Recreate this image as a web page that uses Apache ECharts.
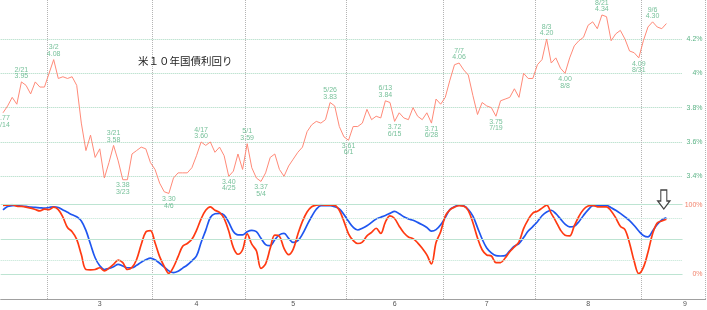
<!DOCTYPE html>
<html><head><meta charset="utf-8">
<script src="https://cdn.jsdelivr.net/npm/echarts@6/dist/echarts.min.js"></script>
<style>html,body{margin:0;padding:0;background:#fff}#c{width:707px;height:310px}</style>
</head><body><div id="c"></div>
<script>
// ---- categories (trading days) ----
const dates = ['2/14','2/15','2/16','2/17','2/21','2/22','2/23','2/24','2/27','2/28',
'3/1','3/2','3/3','3/6','3/7','3/8','3/9','3/10','3/13','3/14','3/15','3/16','3/17','3/20','3/21','3/22','3/23','3/24','3/27','3/28','3/29','3/30','3/31',
'4/3','4/4','4/5','4/6','4/7','4/10','4/11','4/12','4/13','4/14','4/17','4/18','4/19','4/20','4/21','4/24','4/25','4/26','4/27','4/28',
'5/1','5/2','5/3','5/4','5/5','5/8','5/9','5/10','5/11','5/12','5/15','5/16','5/17','5/18','5/19','5/22','5/23','5/24','5/25','5/26','5/30','5/31',
'6/1','6/2','6/5','6/6','6/7','6/8','6/9','6/12','6/13','6/14','6/15','6/16','6/20','6/21','6/22','6/23','6/26','6/27','6/28','6/29','6/30',
'7/3','7/5','7/6','7/7','7/10','7/11','7/12','7/13','7/14','7/17','7/18','7/19','7/20','7/21','7/24','7/25','7/26','7/27','7/28','7/31',
'8/1','8/2','8/3','8/4','8/7','8/8','8/9','8/10','8/11','8/14','8/15','8/16','8/17','8/18','8/21','8/22','8/23','8/24','8/25','8/28','8/29','8/30','8/31',
'9/1','9/5','9/6','9/7','9/8','9/11'];
const futureDates = ['9/12','9/13','9/14','9/15','9/18','9/19','9/20','9/21','9/22','9/25','9/26','9/27','9/28','9/29'];

// ---- US 10Y yield (%) ----
const yields = [3.77,3.81,3.86,3.82,3.95,3.93,3.88,3.95,3.92,3.92,
4.00,4.08,3.97,3.98,3.97,3.98,3.93,3.71,3.55,3.64,
3.51,3.56,3.39,3.48,3.58,3.49,3.38,3.38,3.53,3.55,
3.57,3.56,3.48,3.44,3.36,3.31,3.30,3.39,3.42,3.42,
3.42,3.45,3.52,3.60,3.58,3.60,3.54,3.57,3.52,3.40,
3.43,3.53,3.44,3.59,3.45,3.39,3.37,3.42,3.51,3.53,
3.44,3.40,3.46,3.50,3.54,3.57,3.66,3.70,3.72,3.71,
3.73,3.83,3.81,3.69,3.63,3.61,3.69,3.69,3.71,3.79,
3.73,3.75,3.74,3.84,3.83,3.72,3.77,3.74,3.73,3.80,
3.75,3.73,3.77,3.71,3.85,3.82,3.86,3.96,4.05,4.06,
4.02,3.99,3.87,3.76,3.83,3.81,3.80,3.75,3.84,3.85,
3.86,3.91,3.86,4.00,3.97,3.97,4.05,4.08,4.20,4.06,
4.09,4.03,4.00,4.09,4.16,4.19,4.21,4.28,4.30,4.26,
4.34,4.33,4.19,4.23,4.25,4.20,4.13,4.12,4.09,4.19,
4.27,4.30,4.27,4.26,4.29];

// ---- oscillator (%) : fast (red) and slow (blue) ----
const oscFast = [99,99.5,100,98,97.5,96.5,95,93,91,93.5,
93,96.5,93,82,67,61,50,28,6.5,6,
6.5,9,4.5,8.5,14,20,16.5,6.5,9.5,21,
42.5,60.5,62.5,45,25,11,1,10,25,40,
44,50,63,79.5,92,97,92,89,80,62,
38,28.5,35,58,43,33.5,8,14.5,37,56,
54.5,37,28,36,57.5,76,89.5,97,99.5,100,
99.5,99.5,99,92,76,58,48.5,44,46,55,
60,66,58.5,75,84,80,69,59.5,53.5,51,
45,37,27.5,14.5,45.5,61,83.5,92.5,96.5,98.5,
98,91.5,74,52,35,27.5,26,16.5,16.5,23,
32,39,46.5,65.5,78.5,88,90.5,95,99.5,87.5,
76,63.5,56,55,69.5,83,93,98,99,97,
97,97,91,81,69,64,44.5,18.5,0.5,9.5,
31.5,58,73.5,76.5,79];
const oscSlow = [92.5,97.5,98.5,99,98,97.5,96.5,96,95.5,95,
96,97,96,92.5,89,85.5,82.5,76.5,63,43,
23.5,12,6.5,8,10.5,14,11.5,9,9,12.5,
17,20.5,23,20.5,15.5,10,4.5,2,4,8.5,
13,19,26,45.5,63,81.5,87,87.5,85,74.5,
61.5,56.5,56.5,61,63,61,51.5,42.5,41,49.5,
56.5,58.5,51.5,45.5,48,57.5,70.5,83,93.5,98.5,
98.5,98.5,97,94,86,76,67.5,63.5,66,69.5,
74.5,79.5,82,84.5,87.5,90.5,87,82.5,79.5,77.5,
74.5,71,67,62,64,71,81.5,93,97,99.5,
98.5,93,83.5,67,50.5,37.5,30.5,26.5,26,26.5,
33.5,40,44,52.5,62,68.5,75.5,84,89.5,92,
87,79.5,72,68,69,75.5,84.5,92.5,98.5,99,
99,99,95.5,92,87.5,82.5,77,70,62,55.5,
53.5,62,71.5,78,81];

// ---- peak / trough annotations ----
const annotIndex = [0,4,11,24,26,36,43,49,53,56,71,75,83,85,93,99,107,118,122,130,138,141];
const annotDate  = ['2/14','2/21','3/2','3/21','3/23','4/6','4/17','4/25','5/1','5/4','5/26','6/1','6/13','6/15','6/28','7/7','7/19','8/3','8/8','8/21','8/31','9/6'];
const annotKind  = ['L','H','H','H','L','L','H','L','H','L','H','L','H','L','L','H','L','H','L','H','L','H'];
const arrowAt = ['9/8', 107.5];   // marker arrow (date, oscillator level)

const yTicks = [3.4, 4.2, 0.2];       // top axis min, max, step
const oscLevels = [100, 80, 50, 20, 0];
const oscDotted = [80, 20];
const titleText = '米１０年国債利回り';

// ---- layout helpers ----
const band = 4.607;
const gLeft = 0.7;
const plotCats = dates.concat(futureDates.slice(0, 3));
const allDates = dates.concat(futureDates);
const axisCats = allDates.slice(0, 153);
const monthOf = d => +d.split('/')[0];
const isMonthStart = i => i > 0 && monthOf(allDates[i]) !== monthOf(allDates[i - 1]);
const midSet = new Set();
(function(){
  let s = null;
  for (let i = 0; i <= allDates.length; i++) {
    if (i === allDates.length || isMonthStart(i)) {
      if (s !== null) midSet.add(Math.floor((s + i - 1) / 2));
      s = (i === 0) ? null : i;
    }
  }
})();
const isMonday = i => { const p = allDates[i].split('/'); return new Date(2023, +p[0]-1, +p[1]).getDay() === 1; };

const chart = echarts.init(document.getElementById('c'), null, {renderer: 'canvas'});
const gBase = {left: gLeft, containLabel: false, outerBoundsMode: 'none'};
const txtFont = 'Liberation Sans';

chart.setOption({
  animation: false,
  backgroundColor: '#fff',
  title: {text: titleText, left: 138, top: 56, padding: 0,
    textStyle: {fontSize: 10.5, fontWeight: 'normal', color: '#222', fontFamily: 'Noto Sans CJK JP'}},
  grid: [
    Object.assign({top: 0, height: 299, width: band * axisCats.length}, gBase),
    Object.assign({top: 39, height: 137.3, width: band * plotCats.length}, gBase),
    Object.assign({top: 204.7, height: 69.3, width: band * plotCats.length}, gBase)
  ],
  xAxis: [
    {gridIndex: 0, type: 'category', data: axisCats, boundaryGap: true, position: 'bottom',
     axisLine: {lineStyle: {color: '#a0a0a0', width: 1}},
     axisTick: {interval: (i) => isMonthStart(i), length: 6, lineStyle: {color: '#666'}},
     axisLabel: {interval: (i) => midSet.has(i), formatter: (v) => String(monthOf(v)), fontSize: 7, color: '#555', margin: 2, fontFamily: txtFont},
     splitLine: {show: true, interval: (i) => isMonthStart(i), lineStyle: {color: '#b4b4b4', type: 'dotted', width: 1}}},
    {gridIndex: 0, type: 'category', data: axisCats, boundaryGap: true, position: 'bottom',
     axisLine: {show: false}, axisLabel: {show: false}, splitLine: {show: false},
     axisTick: {interval: (i) => isMonday(i) && !isMonthStart(i), length: 2, lineStyle: {color: '#ff6a50'}}},
    {gridIndex: 1, type: 'category', data: plotCats, boundaryGap: true, show: false},
    {gridIndex: 2, type: 'category', data: plotCats, boundaryGap: true, show: false}
  ],
  yAxis: [
    {gridIndex: 0, type: 'value', show: false, min: 0, max: 1},
    {gridIndex: 1, type: 'value', position: 'right', min: yTicks[0], max: yTicks[1], interval: yTicks[2],
     axisLine: {show: false}, axisTick: {show: false},
     axisLabel: {margin: 20, align: 'right', fontSize: 7, color: '#5cb386', fontFamily: txtFont,
       formatter: (v) => (Math.round(v * 10) / 10) + '%'},
     splitLine: {lineStyle: {color: '#a6d8bf', type: 'dotted', width: 1}}},
    {gridIndex: 2, type: 'value', position: 'right', min: 0, max: 100, interval: 100,
     axisLine: {show: false}, axisTick: {show: false}, splitLine: {show: false},
     axisLabel: {margin: 20, align: 'right', fontSize: 7, color: '#f2836c', fontFamily: txtFont,
       formatter: (v) => v + '%'}}
  ],
  series: [
    {type: 'line', xAxisIndex: 2, yAxisIndex: 1, data: yields, clip: false, symbol: 'none',
     lineStyle: {color: '#ff8a78', width: 1}, z: 3},
    {type: 'scatter', xAxisIndex: 2, yAxisIndex: 1, clip: false, silent: true, z: 5,
     symbol: 'circle', symbolSize: 1, itemStyle: {color: 'rgba(0,0,0,0)'},
     label: {show: true, color: '#52b07f', fontSize: 7, lineHeight: 6.5, fontFamily: txtFont},
     data: annotIndex.map((idx, k) => ({
       value: [dates[idx], yields[idx]],
       label: {position: annotKind[k] === 'H' ? 'top' : 'bottom', distance: 2,
         formatter: annotKind[k] === 'H' ? annotDate[k] + '\n' + yields[idx].toFixed(2)
                                        : yields[idx].toFixed(2) + '\n' + annotDate[k]}
     }))},
    {type: 'line', xAxisIndex: 3, yAxisIndex: 2, data: [], z: 1, silent: true,
     markLine: {symbol: ['none', 'none'], silent: true, label: {show: false},
       data: oscLevels.map(v => ({yAxis: v, lineStyle: {color: '#bde4d2', width: 1, type: oscDotted.includes(v) ? 'dotted' : 'solid'}}))}},
    {type: 'line', xAxisIndex: 3, yAxisIndex: 2, data: oscSlow, symbol: 'none', smooth: 0.35,
     lineStyle: {color: '#1f56f0', width: 1.7}, z: 3},
    {type: 'line', xAxisIndex: 3, yAxisIndex: 2, data: oscFast, symbol: 'none', smooth: 0.35,
     lineStyle: {color: '#ff3a12', width: 1.7}, z: 4},
    {type: 'scatter', xAxisIndex: 3, yAxisIndex: 2, clip: false, silent: true, z: 6,
     symbol: 'path://M3,0 L9,0 L9,11 L12,11 L6,19 L0,11 L3,11 Z', symbolSize: [12, 19], symbolOffset: [2, 0],
     itemStyle: {color: '#fff', borderColor: '#111', borderWidth: 1.3},
     data: [arrowAt]}
  ]
});
</script></body></html>
